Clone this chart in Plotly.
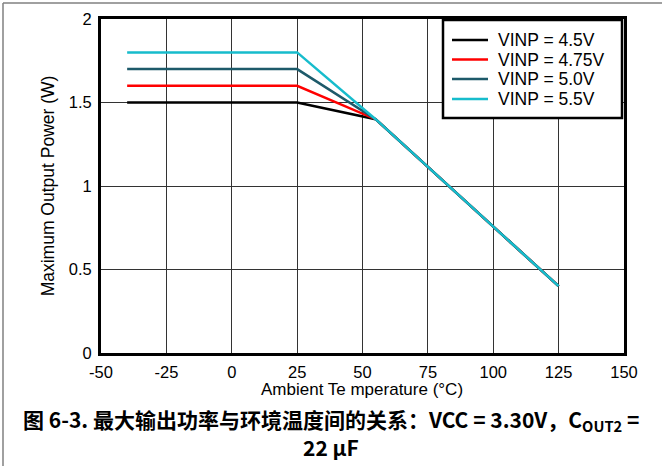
import plotly.graph_objects as go

temp_c = [-40, 25, 55, 125]
p_45 = [1.5, 1.5, 1.4, 0.4]
p_475 = [1.6, 1.6, 1.4, 0.4]
p_50 = [1.7, 1.7, 1.4, 0.4]
p_55 = [1.8, 1.8, 1.4, 0.4]

series_names = ["VINP = 4.5V", "VINP = 4.75V", "VINP = 5.0V", "VINP = 5.5V"]
series_vals = [p_45, p_475, p_50, p_55]
series_colors = ["#000000", "#ff0000", "#1d5a6a", "#17bccc"]

x_ticks = [-50, -25, 0, 25, 50, 75, 100, 125, 150]
x_ticklabels = ["-50", "-25", "0", "25", "50", "75", "100", "125", "150"]
y_ticks = [0, 0.5, 1, 1.5, 2]
y_ticklabels = ["0", "0.5", "1", "1.5", "2"]

x_title = "Ambient Te mperature (°C)"
y_title = "Maximum Output Power (W)"

fig = go.Figure()
for name, vals, col in zip(series_names, series_vals, series_colors):
    fig.add_trace(go.Scatter(x=temp_c, y=vals, mode="lines", name=name,
                             line=dict(color=col, width=2.5),
                             showlegend=False))

W, H = 662, 466
L, R, T, B = 101, 38, 19, 113
pw, ph = W - L - R, H - T - B

def px_x(p):
    return (p - L) / pw

def px_y(p):
    return 1 - (p - T) / ph

fig.update_layout(
    width=W, height=H,
    margin=dict(l=L, r=R, t=T, b=B, autoexpand=False),
    paper_bgcolor="white", plot_bgcolor="white",
    font=dict(family="Liberation Sans, Arial", size=17, color="#000"),
    showlegend=False,
    xaxis=dict(range=[-50, 150], tickmode="array", tickvals=x_ticks,
               ticktext=x_ticklabels, showgrid=True, automargin=False,
               gridcolor="#333", gridwidth=1, zeroline=False,
               showline=True, linecolor="#000", linewidth=3, mirror=True,
               ticks="", ticklabelstandoff=2, tickfont=dict(size=16.5)),
    yaxis=dict(range=[0, 2], tickmode="array", tickvals=y_ticks,
               ticktext=y_ticklabels, showgrid=True, automargin=False,
               gridcolor="#333", gridwidth=1, zeroline=False,
               showline=True, linecolor="#000", linewidth=3, mirror=True,
               ticks="", ticklabelstandoff=3, tickfont=dict(size=16.5),
               title=dict(text=y_title, standoff=10,
                          font=dict(size=17.5))),
)

# x axis title
fig.add_annotation(xref="paper", yref="paper", x=px_x(362), y=px_y(389),
                   xanchor="center", yanchor="middle", showarrow=False,
                   text=x_title, font=dict(size=17, color="#000"))

# legend box
fig.add_shape(type="rect", xref="paper", yref="paper",
              x0=px_x(443), x1=px_x(622), y0=px_y(118), y1=px_y(20),
              fillcolor="white", line=dict(color="#000", width=2.5),
              layer="above")
row_y = [40, 59.5, 79, 99]
for name, col, ry in zip(series_names, series_colors, row_y):
    fig.add_shape(type="line", xref="paper", yref="paper",
                  x0=px_x(452), x1=px_x(488), y0=px_y(ry), y1=px_y(ry),
                  line=dict(color=col, width=2.5), layer="above")
    fig.add_annotation(xref="paper", yref="paper", x=px_x(496), y=px_y(ry),
                       xanchor="left", yanchor="middle", showarrow=False,
                       text=name, font=dict(size=17.5, color="#000"))

caption_font = dict(family="Noto Sans CJK SC", size=21, color="#000")
fig.add_annotation(
    xref="paper", yref="paper", x=px_x(331), y=px_y(420),
    xanchor="center", yanchor="middle", showarrow=False,
    text="<b>图 6-3. 最大输出功率与环境温度间的关系：VCC = 3.30V，C<sub>OUT2</sub> =</b>",
    font=caption_font,
)
fig.add_annotation(
    xref="paper", yref="paper", x=px_x(331), y=px_y(447),
    xanchor="center", yanchor="middle", showarrow=False,
    text="<b>22 µF</b>",
    font=caption_font,
)

# outer frame (left and top edges)
fig.add_shape(type="line", xref="paper", yref="paper",
              x0=px_x(3), x1=px_x(3), y0=px_y(3), y1=px_y(466),
              line=dict(color="#808080", width=1.5))
fig.add_shape(type="line", xref="paper", yref="paper",
              x0=px_x(3), x1=px_x(662), y0=px_y(3), y1=px_y(3),
              line=dict(color="#808080", width=1.5))

fig.write_html("out.html", config={"displayModeBar": False},
               post_script="document.body.style.margin='0';")
